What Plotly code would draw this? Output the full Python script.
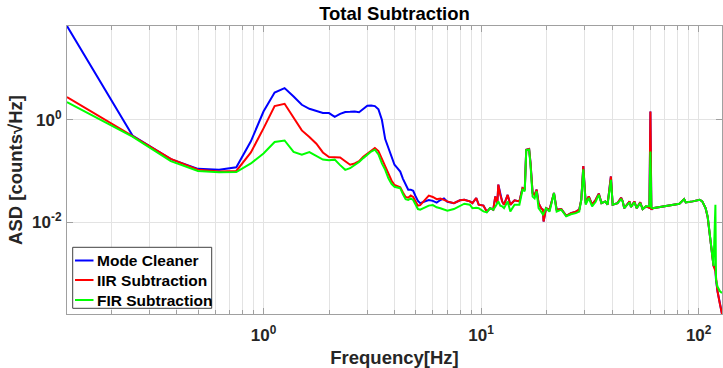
import numpy as np
import plotly.graph_objects as go

# Frequency bins [Hz]
freq = [0.125, 0.25, 0.375, 0.5, 0.625, 0.75, 0.875, 1.0, 1.125, 1.25, 1.375, 1.5,
        1.625, 1.75, 1.875, 2.0, 2.125, 2.25, 2.375, 2.5, 2.625, 2.75, 2.875, 3.0,
        3.125, 3.25, 3.375, 3.5, 3.625, 3.75, 3.875, 4.0, 4.125, 4.25, 4.375, 4.5,
        4.625, 4.75, 4.875, 5.0, 5.125, 5.25, 5.5, 5.75, 6.0, 6.25, 6.5, 6.75, 7.0,
        7.5, 8.0, 8.375, 8.875, 9.125, 9.5, 9.75, 10.25, 10.625, 11.0, 11.375, 11.625,
        11.875, 12.0, 12.25, 12.5, 12.75, 13.25, 13.625, 14.25, 15.0, 15.5, 15.875,
        16.125, 16.625, 16.875, 17.25, 17.625, 18.0, 18.375, 18.875, 19.25, 19.375,
        19.875, 20.625, 21.625, 22.25, 23.375, 24.625, 25.875, 27.25, 28.25, 28.875,
        29.5, 30.25, 31.25, 32.375, 33.625, 34.75, 35.75, 37.25, 38.125, 39.5, 40.25,
        42.375, 44.0, 44.75, 45.5, 48.125, 48.875, 50.625, 51.875, 53.875, 55.25,
        57.25, 59.375, 60.0, 60.625, 61.5, 65.75, 70.875, 76.0, 81.5, 85.75, 87.25,
        93.875, 101.125, 103.875, 107.625, 110.0, 114.0, 117.0, 119.375, 120.125,
        122.0, 125.0, 128.0]

# Mode Cleaner ASD
mode_cleaner = [68.0, 0.49, 0.17, 0.11, 0.105, 0.118, 0.38, 1.45, 3.4, 4.15, 2.85, 1.96,
                1.64, 1.47, 1.36, 1.35, 1.14, 1.3, 1.42, 1.43, 1.45, 1.40, 1.62, 1.88,
                1.9, 1.85, 1.6, 1.0, 0.42, 0.28, 0.2, 0.132, 0.114, 0.097, 0.07, 0.054,
                0.043, 0.043, 0.041, 0.032, 0.026, 0.0235, 0.025, 0.027, 0.026, 0.024,
                0.027, 0.029, 0.025,
                0.0235, 0.0267, 0.0274, 0.0254, 0.0235, 0.0296, 0.0219, 0.021, 0.016,
                0.0187, 0.0175, 0.0317, 0.0235, 0.054, 0.034, 0.0254, 0.0219, 0.034,
                0.0219, 0.0267, 0.0254, 0.046, 0.043, 0.26, 0.268, 0.142, 0.037, 0.034,
                0.043, 0.0235, 0.0187, 0.0175, 0.0103, 0.0187, 0.0175, 0.037, 0.0175,
                0.018, 0.0133, 0.015, 0.016, 0.0175, 0.0274, 0.124, 0.0235, 0.0317,
                0.0219, 0.0274, 0.036, 0.0235, 0.0254, 0.0219, 0.078, 0.0219, 0.0235,
                0.030, 0.0254, 0.0187, 0.0254, 0.0197, 0.0254, 0.0187, 0.0243, 0.018,
                0.0203, 0.019, 1.45, 0.0175, 0.0187, 0.0197, 0.021, 0.0219, 0.0229,
                0.028, 0.0243, 0.0254, 0.0274, 0.0254, 0.0187, 0.0125, 0.0034, 0.0014,
                0.0012, 0.00075, 0.00045, 0.00026, 0.00016]

# IIR subtraction residual ASD
iir_sub = [2.78, 0.49, 0.172, 0.106, 0.098, 0.1, 0.23, 0.68, 1.85, 2.05, 1.12, 0.62,
           0.46, 0.34, 0.23, 0.187, 0.185, 0.184, 0.155, 0.132, 0.14, 0.155, 0.19, 0.215,
           0.25, 0.28, 0.245, 0.17, 0.122, 0.088, 0.065, 0.053, 0.05, 0.048, 0.038, 0.031,
           0.03, 0.033, 0.031, 0.025, 0.021, 0.0215, 0.027, 0.033, 0.031, 0.028, 0.029,
           0.027, 0.0254,
           0.0235, 0.0267, 0.0274, 0.0254, 0.0235, 0.0296, 0.0219, 0.021, 0.016,
           0.0187, 0.0175, 0.0317, 0.0235, 0.054, 0.034, 0.0254, 0.0219, 0.034,
           0.0219, 0.0267, 0.0254, 0.046, 0.043, 0.26, 0.268, 0.142, 0.037, 0.034,
           0.043, 0.0235, 0.0187, 0.0175, 0.0103, 0.0187, 0.0175, 0.037, 0.0175,
           0.018, 0.0133, 0.015, 0.016, 0.0175, 0.0274, 0.124, 0.0235, 0.0317,
           0.0219, 0.0274, 0.036, 0.0235, 0.0254, 0.0219, 0.078, 0.0219, 0.0235,
           0.030, 0.0254, 0.0187, 0.0254, 0.0197, 0.0254, 0.0187, 0.0243, 0.018,
           0.0203, 0.019, 1.45, 0.0175, 0.0187, 0.0197, 0.021, 0.0219, 0.0229,
           0.028, 0.0243, 0.0254, 0.0274, 0.0254, 0.0187, 0.0125, 0.0034, 0.0014,
           0.0011, 0.00075, 0.00045, 0.00026, 0.00016]

# FIR subtraction residual ASD
fir_sub = [2.22, 0.47, 0.155, 0.1, 0.094, 0.095, 0.14, 0.22, 0.367, 0.394, 0.235, 0.207,
           0.234, 0.2, 0.167, 0.161, 0.166, 0.13, 0.105, 0.113, 0.13, 0.15, 0.178, 0.205,
           0.24, 0.26, 0.21, 0.14, 0.105, 0.072, 0.056, 0.049, 0.047, 0.046, 0.035, 0.028,
           0.027, 0.029, 0.027, 0.022, 0.018, 0.0175, 0.019, 0.021, 0.0215, 0.0195,
           0.0187, 0.0175, 0.0167,
           0.018, 0.0203, 0.0229, 0.0219, 0.0187, 0.019, 0.0187, 0.0162, 0.0155,
           0.0187, 0.0175, 0.02, 0.0235, 0.0254, 0.021, 0.0203, 0.0187, 0.0254,
           0.0162, 0.0219, 0.0219, 0.043, 0.04, 0.255, 0.26, 0.13, 0.0317, 0.029,
           0.04, 0.0187, 0.016, 0.014, 0.0145, 0.0187, 0.016, 0.037, 0.016,
           0.0175, 0.013, 0.0142, 0.015, 0.016, 0.0274, 0.108, 0.0219, 0.0296,
           0.0203, 0.025, 0.034, 0.0235, 0.0254, 0.0219, 0.067, 0.0219, 0.0235,
           0.028, 0.0254, 0.0187, 0.0243, 0.0197, 0.0243, 0.0187, 0.0235, 0.018,
           0.0203, 0.0203, 0.24, 0.019, 0.0187, 0.0197, 0.021, 0.0219, 0.0229,
           0.028, 0.0243, 0.0254, 0.0274, 0.0254, 0.0187, 0.0129, 0.0034, 0.00139,
           0.0219, 0.00075, 0.00055, 0.00045, 0.00041]

series_names = ["Mode Cleaner", "IIR Subtraction", "FIR Subtraction"]
series_colors = ["#0000ff", "#ff0000", "#00ff00"]

x_tick_vals = [1, 10, 100]
x_tick_text = ["10<sup>0</sup>", "10<sup>1</sup>", "10<sup>2</sup>"]
x_minor_vals = [0.2, 0.3, 0.4, 0.5, 0.6, 0.7, 0.8, 0.9,
                2, 3, 4, 5, 6, 7, 8, 9,
                20, 30, 40, 50, 60, 70, 80, 90]
y_tick_vals = [1e-2, 1]
y_tick_text = ["10<sup>-2</sup>", "10<sup>0</sup>"]

FONT = "Liberation Sans"
TXT = "#262626"
GRID = "#e3e3e3"
AX = "#a0a0a0"

fig = go.Figure()
for name, vals, col in zip(series_names, [mode_cleaner, iir_sub, fir_sub], series_colors):
    fig.add_trace(go.Scatter(x=freq, y=vals, mode="lines", name=name,
                             line=dict(color=col, width=2), showlegend=False,
                             hoverinfo="skip"))

all_vals = mode_cleaner + iir_sub + fir_sub
y_lo = np.log10(min(all_vals))
y_hi = np.log10(max(all_vals))

# Legend drawn as a boxed key inside the axes (lower-left), in axis-domain units
PW, PH = 655.0, 288.0
shapes = [dict(type="rect", xref="x domain", yref="y domain",
               x0=5.7 / PW, x1=144.7 / PW, y0=5.7 / PH, y1=66.7 / PH,
               fillcolor="white", line=dict(color="#404040", width=1), layer="above")]
annotations = []
row_y = [53.5, 34.0, 14.0]
for name, col, ry in zip(series_names, series_colors, row_y):
    shapes.append(dict(type="line", xref="x domain", yref="y domain",
                       x0=8.0 / PW, x1=26.5 / PW, y0=ry / PH, y1=ry / PH,
                       line=dict(color=col, width=2), layer="above"))
    annotations.append(dict(text=name, xref="x domain", yref="y domain",
                            x=27.5 / PW, y=ry / PH, xanchor="left", yanchor="middle",
                            showarrow=False,
                            font=dict(size=15.5, weight="bold", color="#000000")))

fig.update_layout(
    width=723, height=368,
    margin=dict(l=67, r=1, t=26, b=54),
    plot_bgcolor="white", paper_bgcolor="white",
    font=dict(family=FONT, color=TXT),
    title=dict(text="Total Subtraction", x=0.5, xref="paper", xanchor="center",
               y=1 - 14 / 368, yref="container", yanchor="middle",
               font=dict(size=18.5, weight="bold", color="#000000")),
    showlegend=False,
    shapes=shapes,
    annotations=annotations,
)
fig.update_xaxes(
    type="log", range=[np.log10(freq[0]), np.log10(freq[-1])],
    tickvals=x_tick_vals, ticktext=x_tick_text,
    tickfont=dict(size=17, weight="bold", color=TXT),
    ticks="inside", ticklen=6, tickcolor=AX, ticklabelstandoff=6,
    showgrid=True, gridcolor=GRID, gridwidth=1,
    minor=dict(tickvals=x_minor_vals, ticks="inside", ticklen=4, tickcolor=AX,
               showgrid=True, gridcolor=GRID, gridwidth=1),
    showline=True, linecolor=AX, linewidth=1, mirror="ticks",
    zeroline=False,
    title=dict(text="Frequency[Hz]", font=dict(size=18.5, weight="bold", color=TXT),
               standoff=6),
)
fig.update_yaxes(
    type="log", range=[y_lo, y_hi],
    tickvals=y_tick_vals, ticktext=y_tick_text,
    tickfont=dict(size=17, weight="bold", color=TXT),
    ticks="inside", ticklen=6, tickcolor=AX, ticklabelstandoff=1,
    showgrid=True, gridcolor=GRID, gridwidth=1,
    showline=True, linecolor=AX, linewidth=1, mirror="ticks",
    zeroline=False,
    title=dict(text="ASD [counts√Hz]", font=dict(size=18.5, weight="bold", color=TXT),
               standoff=4),
)

fig.write_html("out.html", config={"displayModeBar": False},
               post_script="document.body.style.margin='0';")
